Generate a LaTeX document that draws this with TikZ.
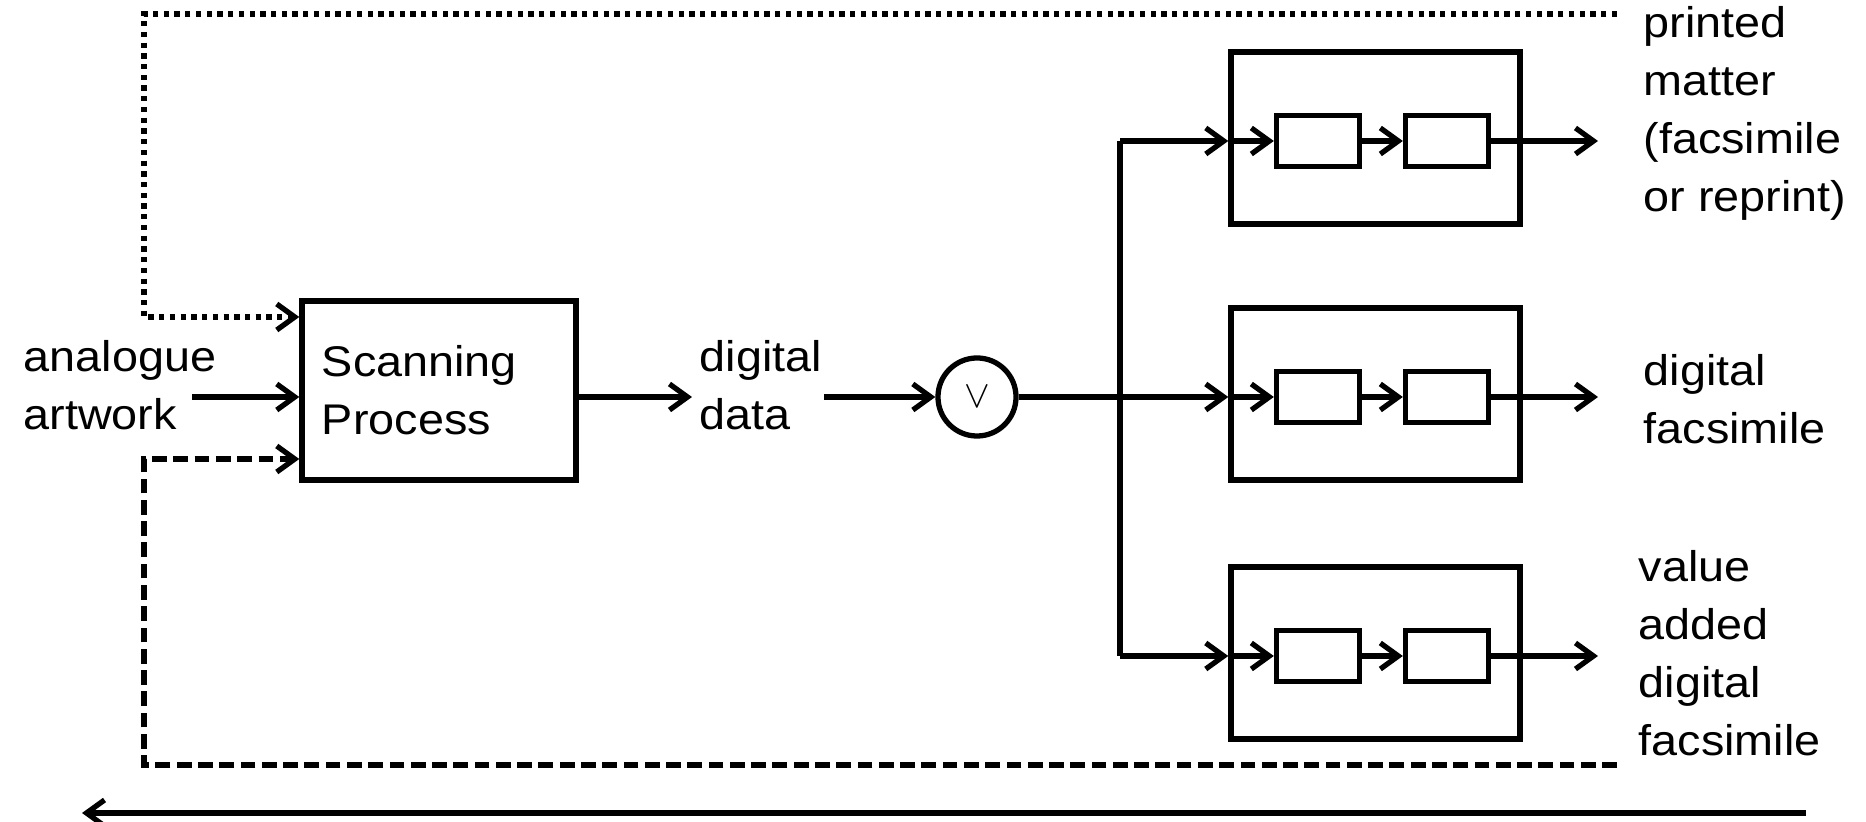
\documentclass[tikz,border=0pt]{standalone}
\usepackage{fontspec}
\setmainfont{Liberation Sans}[FakeStretch=1.09]
\usepackage{tikz}
\usetikzlibrary{arrows.meta}

\begin{document}
\begin{tikzpicture}[x=0.01cm, y=-0.01cm, line width=1.5pt,
    font=\fontsize{12.2pt}{16.5pt}\selectfont,
    arr/.style={-{Straight Barb[length=0.18cm,width=0.26cm]}},
    dotline/.style={dash pattern=on 1.5pt off 1.55pt},
    dashline/.style={dash pattern=on 4.2pt off 1.85pt},
    lbl/.style={anchor=base west, align=left, inner sep=0pt},
    bigbox/.style={rectangle, draw=black, minimum width=2.89cm, minimum height=1.72cm, inner sep=0pt},
    smallbox/.style={rectangle, draw=black, minimum width=0.83cm, minimum height=0.51cm, inner sep=0pt}]
    \useasboundingbox (0,0) rectangle (1866,822);

    % input side
    \node[lbl] (art) at (21,430) {analogue\\artwork};
    \node[rectangle, draw=black, minimum width=2.74cm, minimum height=1.79cm, inner xsep=0.2cm,
          text width=2.34cm, align=left] (scan) at (439,390.5) {Scanning\\Process};
    \node[lbl] (data) at (697,430) {digital\\data};
    \node[circle, draw=black, minimum size=0.78cm, inner sep=0pt,
          font=\fontsize{10.5pt}{12pt}\selectfont] (split) at (977,397) {$\vee$};

    \coordinate (artend) at (192,397);
    \coordinate (dotend) at (1617,14);
    \coordinate (dotturn) at (144,317);
    \coordinate (dashend) at (1617,765);
    \coordinate (dashturn) at (144,459);

    \draw[arr] (artend) -- (artend -| scan.west);
    \draw[arr, dotline] (dotend) -| (dotturn) -- (dotturn -| scan.west);
    \draw[arr, dashline] (dashend) -| (dashturn) -- (dashturn -| scan.west);
    \draw[arr, shorten >=0.05cm] (scan.east |- split) -- (data.west |- split);
    \draw[arr] (data.east |- split) -- (split);

    % output branches
    \node[bigbox] (out1) at (1375.5,138) {};
    \node[bigbox] (out2) at (1375.5,394) {};
    \node[bigbox] (out3) at (1375.5,653) {};
    \node[smallbox] (p1a) at (1318,141) {};
    \node[smallbox] (p1b) at (1447,141) {};
    \node[smallbox] (p2a) at (1318,397) {};
    \node[smallbox] (p2b) at (1447,397) {};
    \node[smallbox] (p3a) at (1318,656) {};
    \node[smallbox] (p3b) at (1447,656) {};

    \coordinate (bus1) at (1120,141);
    \coordinate (bus2) at (1120,397);
    \coordinate (bus3) at (1120,656);
    \coordinate (end1) at (1598,141);
    \coordinate (end2) at (1598,397);
    \coordinate (end3) at (1598,656);

    \draw (split) -- (bus2);
    \draw (bus1) -- (bus3);
    \draw[arr] (bus1) -- (out1.west |- p1a);
    \draw[arr] (bus2) -- (out2.west |- p2a);
    \draw[arr] (bus3) -- (out3.west |- p3a);
    \draw[arr] (out1.west |- p1a) -- (p1a);
    \draw[arr] (out2.west |- p2a) -- (p2a);
    \draw[arr] (out3.west |- p3a) -- (p3a);
    \draw[arr] (p1a) -- (p1b);
    \draw[arr] (p2a) -- (p2b);
    \draw[arr] (p3a) -- (p3b);
    \draw[arr] (p1b) -- (end1);
    \draw[arr] (p2b) -- (end2);
    \draw[arr] (p3b) -- (end3);

    \node[lbl] (t1) at (1641,212) {printed\\matter\\(facsimile\\or reprint)};
    \node[lbl] (t2) at (1641,444) {digital\\facsimile};
    \node[lbl] (t3) at (1636,756) {value\\added\\digital\\facsimile};

    % time axis
    \coordinate (timeR) at (1806,813);
    \coordinate (timeL) at (82,813);
    \draw[arr] (timeR) -- (timeL);
\end{tikzpicture}
\end{document}
